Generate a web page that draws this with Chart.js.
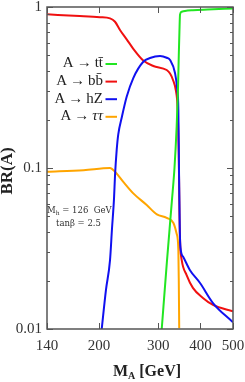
<!DOCTYPE html>
<html>
<head>
<meta charset="utf-8">
<script src="https://cdn.jsdelivr.net/npm/chart.js@4.4.1/dist/chart.umd.min.js"></script>
<style>
  html, body { margin: 0; padding: 0; background: #fff; }
  #wrap { width: 245px; height: 382px; }
</style>
</head>
<body>
<div id="wrap"><canvas id="chart"></canvas></div>
<script>
// values (M_A in GeV, branching ratio)
const ttMass = [307, 318, 329, 335, 340, 343, 345, 346.5, 348, 352, 360, 380, 420, 500];
const ttBR = [0.01, 0.026, 0.062, 0.1, 0.18, 0.3, 0.5, 0.7, 0.9, 0.935, 0.945, 0.955, 0.965, 0.98];

const bbMass = [140, 175, 201, 215.5, 223, 230.7, 241.5, 252.7, 270.6, 289.8, 317.6, 325, 331.6, 338.5, 342, 345, 346.7, 348.5, 352, 364, 380, 407, 436, 500];
const bbBR = [0.90, 0.88, 0.865, 0.85, 0.81, 0.72, 0.63, 0.55, 0.465, 0.43, 0.406, 0.386, 0.352, 0.3, 0.24, 0.12, 0.05, 0.033, 0.0268, 0.0216, 0.018, 0.0156, 0.0141, 0.0129];

const hzMass = [203.6, 209.6, 215.5, 218.4, 221.5, 223, 225.6, 228, 233.4, 241.5, 252.7, 270.6, 283.3, 303.4, 317.6, 325, 336.2, 341.5, 344, 345.5, 347.5, 349, 355.8, 372.5, 399, 436, 500];
const hzBR = [0.01, 0.0175, 0.0268, 0.0418, 0.065, 0.09, 0.13, 0.162, 0.205, 0.277, 0.362, 0.457, 0.482, 0.496, 0.484, 0.469, 0.389, 0.305, 0.229, 0.097, 0.04, 0.032, 0.028, 0.0232, 0.0193, 0.0145, 0.011];

const tautauMass = [140, 180, 215.5, 223, 236, 252.7, 277, 297, 317.6, 332.6, 340, 344, 345, 346];
const tautauBR = [0.0948, 0.097, 0.1, 0.0948, 0.082, 0.0696, 0.0589, 0.0515, 0.049, 0.0455, 0.0390, 0.031, 0.02, 0.0101];

const seriesLabels = ["A\u2009\u2192\u2009tt\u0304", "A\u2009\u2192\u2009bb\u0304", "A\u2009\u2192\u2009hZ", "A\u2009\u2192\u2009\u03c4\u03c4"];
const seriesColors = ["#22e622", "#f01010", "#1010f0", "#ffa500"];

const xTicks = [140, 200, 300, 400, 500];
const xTickLabels = ["140", "200", "300", "400", "500"];
const yTicks = [0.01, 0.1, 1];
const yTickLabels = ["0.01", "0.1", "1"];
const yMinorTicks = [0.02, 0.03, 0.04, 0.05, 0.06, 0.07, 0.08, 0.09, 0.2, 0.3, 0.4, 0.5, 0.6, 0.7, 0.8, 0.9];

const serif = "'Liberation Serif', 'DejaVu Serif', serif";
const frameColor = "#555";
const textColor = "#333";

const toPoints = (xs, ys) => xs.map((x, i) => ({ x, y: ys[i] }));

// frame, inward ticks, legend, axis titles, annotation
const decorations = {
  id: "decorations",
  afterDatasetsDraw(chart) {
    const { ctx, chartArea: a, scales } = chart;
    const xs = scales.x, ys = scales.y;
    ctx.save();
    ctx.strokeStyle = frameColor;
    ctx.lineWidth = 1;
    ctx.beginPath();
    yTicks.concat(yMinorTicks).forEach((v) => {
      const len = yTicks.includes(v) ? 6 : 3;
      const py = Math.round(ys.getPixelForValue(v)) + 0.5;
      ctx.moveTo(a.left, py); ctx.lineTo(a.left + len, py);
      ctx.moveTo(a.right, py); ctx.lineTo(a.right - len, py);
    });
    xTicks.forEach((v) => {
      const px = Math.round(xs.getPixelForValue(v)) + 0.5;
      ctx.moveTo(px, a.bottom); ctx.lineTo(px, a.bottom - 6);
      ctx.moveTo(px, a.top); ctx.lineTo(px, a.top + 6);
    });
    ctx.stroke();
    ctx.lineWidth = 1.5;
    ctx.strokeRect(a.left, a.top, a.right - a.left, a.bottom - a.top);

    // legend: text right-aligned, sample line after it
    ctx.font = "15px " + serif;
    ctx.textBaseline = "middle";
    ctx.fillStyle = "#222";
    chart.data.datasets.forEach((ds, i) => {
      const y = 63.5 + i * 17.6;
      ctx.textAlign = "right";
      if (i === 3) {
        ctx.font = "italic 15px " + serif;
        const w = ctx.measureText("\u03c4\u03c4").width;
        ctx.fillText("\u03c4\u03c4", 103, y);
        ctx.font = "15px " + serif;
        ctx.fillText("A\u2009\u2192\u2009", 103 - w, y);
      } else {
        ctx.fillText(ds.label, 103, y);
      }
      ctx.strokeStyle = ds.borderColor;
      ctx.lineWidth = 2;
      ctx.beginPath();
      ctx.moveTo(105.5, y + 0.5);
      ctx.lineTo(117, y + 0.5);
      ctx.stroke();
    });

    // annotation
    ctx.fillStyle = textColor;
    ctx.textAlign = "left";
    ctx.textBaseline = "alphabetic";
    ctx.font = "8.5px 'DejaVu Serif', serif";
    ctx.fillText("M", 47, 213);
    let w = ctx.measureText("M").width;
    ctx.font = "6px 'DejaVu Serif', serif";
    ctx.fillText("h", 47 + w, 215);
    w += ctx.measureText("h").width;
    ctx.font = "8.5px 'DejaVu Serif', serif";
    ctx.fillText(" = 126  GeV", 47 + w, 213);
    ctx.fillText("tan\u03b2 = 2.5", 56, 226);

    // x title
    ctx.fillStyle = "#222";
    ctx.font = "bold 16px " + serif;
    const m = ctx.measureText("M").width;
    ctx.font = "bold 10px " + serif;
    const s = ctx.measureText("A").width;
    ctx.font = "bold 16px " + serif;
    const r = ctx.measureText(" [GeV]").width;
    let x0 = 147 - (m + s + r) / 2;
    ctx.fillText("M", x0, 376);
    ctx.font = "bold 10px " + serif;
    ctx.fillText("A", x0 + m, 379);
    ctx.font = "bold 16px " + serif;
    ctx.fillText(" [GeV]", x0 + m + s, 376);

    // y title
    ctx.translate(8, 171);
    ctx.rotate(-Math.PI / 2);
    ctx.textAlign = "center";
    ctx.textBaseline = "middle";
    ctx.font = "bold 17px " + serif;
    ctx.fillText("BR(A)", 0, 0);
    ctx.restore();
  }
};

const makeSet = (i, xs, ys, order) => ({
  label: seriesLabels[i],
  data: toPoints(xs, ys),
  borderColor: seriesColors[i],
  borderWidth: 2,
  pointRadius: 0,
  fill: false,
  cubicInterpolationMode: "monotone",
  order
});

new Chart(document.getElementById("chart"), {
  type: "line",
  data: {
    datasets: [
      makeSet(0, ttMass, ttBR, 1),
      makeSet(1, bbMass, bbBR, 3),
      makeSet(2, hzMass, hzBR, 2),
      makeSet(3, tautauMass, tautauBR, 4)
    ]
  },
  options: {
    responsive: true,
    maintainAspectRatio: false,
    animation: false,
    layout: { padding: { left: 0, right: 12, top: 7, bottom: 0 } },
    plugins: { legend: { display: false }, tooltip: { enabled: false } },
    scales: {
      x: {
        type: "logarithmic",
        min: 140,
        max: 500,
        afterBuildTicks: (s) => { s.ticks = xTicks.map((v) => ({ value: v })); },
        afterFit: (s) => { s.height = 53; s.paddingLeft = 0; s.paddingRight = 0; },
        grid: { display: false, drawTicks: false },
        border: { display: false },
        ticks: {
          autoSkip: false,
          maxRotation: 0,
          padding: 8,
          color: textColor,
          font: { family: serif, size: 15 },
          callback: (v, i) => xTickLabels[i]
        }
      },
      y: {
        type: "logarithmic",
        min: 0.01,
        max: 1,
        afterBuildTicks: (s) => { s.ticks = yTicks.map((v) => ({ value: v })); },
        afterFit: (s) => { s.width = 47; s.paddingTop = 0; s.paddingBottom = 0; },
        grid: { display: false, drawTicks: false },
        border: { display: false },
        ticks: {
          autoSkip: false,
          padding: 5,
          color: textColor,
          font: { family: serif, size: 15 },
          callback: (v, i) => yTickLabels[i]
        }
      }
    }
  },
  plugins: [decorations]
});
</script>
</body>
</html>
